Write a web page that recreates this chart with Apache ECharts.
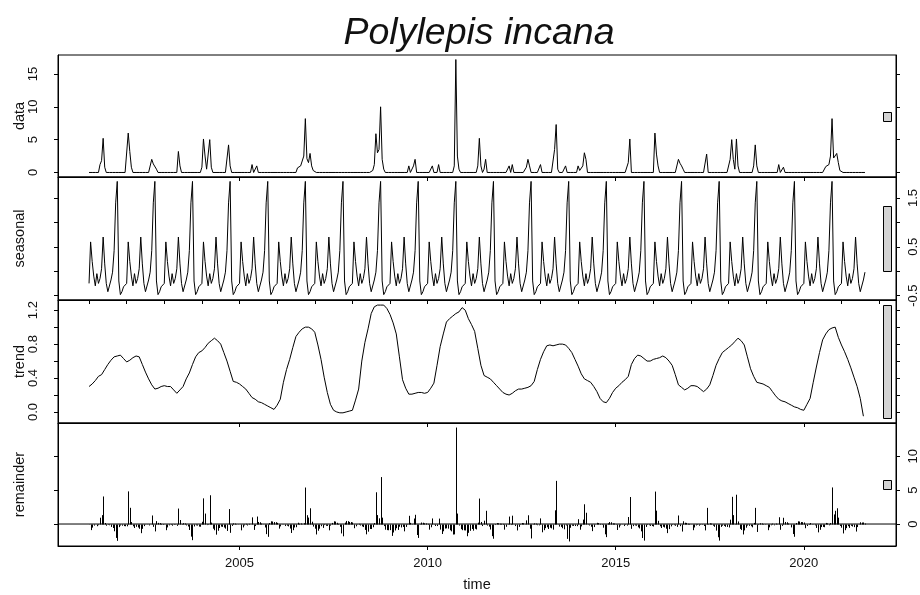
<!DOCTYPE html>
<html><head><meta charset="utf-8">
<script src="https://cdn.jsdelivr.net/npm/echarts@6/dist/echarts.min.js"></script>
<style>html,body{margin:0;padding:0;background:#fff}#c{width:920px;height:595px}</style>
</head><body><div id="c"></div>
<script>
// ---- time base (semi-monthly series starting Jan 2001) ----
const startYear = 2001;
const perYear = 24;      // observations per year
const trendPerYear = 12;

// ---- data panel (one row per year, 24 values) ----
const dataValues = [
0,0,0,0,0,0,0,1.2,1.8,5.2,0.8,0,0,0,0,0,0,0,0,0,0,0,0,0,
0,6.0,3.2,0.8,0,0,0,0,0,0,0,0,0,0,0,0.3,2.0,1.3,1.0,0.5,0,0,0,0,
0,0,0,0,0,0,0,0,0,3.2,1.0,0,0,0,0,0,0,0,0,0,0,0,0,0,
0.8,5.1,2.5,0.5,0.5,5.0,0.8,0,0,0,0,0,0,0,0,0,0,4.2,1.0,0,0,0,0,0,
0,0,0,0,0,0,0,0,1.2,0,0,1.0,0,0,0,0,0,0,0,0,0,0,0,0,
0,0,0,0,0,0,0,0,0,0,0,0,0,0.7,0.8,1.0,1.3,2.5,8.2,2.1,1.5,2.9,1.0,0.3,
0,0,0,0,0,0,0,0,0,0,0,0,0,0,0,0,0,0,0,0,0,0,0,0,
0,0,0,0,0,0,0,0,0,0,0,0,0,0.3,1.2,5.9,3.0,3.5,10.0,2.0,0.5,0,0,0,
0,0,0,0,0,0,0,0,0,0,0,0,1.0,0,0,1.0,2.0,0,0,0,0,0,0,0,
0,0,0,1.0,0,0,0,1.2,0,0,0,0,0,0,0,0,0,1.0,17.2,2.5,0.5,0,0,0,
0,0,0,0,0,0,0,0,1.0,5.2,1.0,0,0.5,2.0,0,0,0,0,0,0,0,0,0,0,
0,0,0,0,1.0,0,1.2,0,0,0,0,0,0,0,0,0.8,2.0,1.0,0,0,0,0,0,0,
1.2,0,0,0,0,0,0,0,0,3.5,7.3,0.5,0,0,0,0,1.0,0,0,0,0,0,0,0,
1.0,0.3,0.3,1.0,3.0,2.0,0,0,0,0,0,0,0,0,0,0,0,0,0,0,0,0,0,0,
0,0,0,0,0,0,0,0,1.5,5.1,0,0,0,0,0,0,0,0,0,0,0,0,0,0,
0,6.0,2.8,1.0,0,0,0,0,0,0,0,0,0,0,0,0,2.0,1.4,1.0,0.5,0,0,0,0,
0,0,0,0,0,0,0,0,0,0,2.8,0,0,0,0,0,0,0,0,0,0,0,0,0,
0,2.0,5.0,2.0,0.5,5.1,1.0,0,0,0,0,0,0,0,0,0,1.0,4.2,1.0,0,0,0,0,0,
0,0,0,0,0,0,0,0,1.2,0,0,0.8,0,0,0,0,0,0,0,0,0,0,0,0,
0,0,0,0,0,0,0,0,0,0,0,0,0,0,0.9,1.0,1.2,2.5,8.2,2.2,2.5,2.9,1.5,0.3,
0,0,0,0,0,0,0,0,0,0,0,0,0,0,0,0
];

// ---- seasonal panel ----
const seasonalValues = [
-0.25,0.6,0.2,-0.1,-0.3,-0.05,-0.25,-0.15,0.05,0.7,0.15,-0.25,-0.42,-0.38,-0.18,-0.02,0.42,1.4,1.84,-0.2,-0.48,-0.42,-0.32,-0.3,
-0.25,0.6,0.2,-0.1,-0.3,-0.05,-0.25,-0.15,0.05,0.7,0.15,-0.25,-0.42,-0.38,-0.18,-0.02,0.42,1.4,1.84,-0.2,-0.48,-0.42,-0.32,-0.3,
-0.25,0.6,0.2,-0.1,-0.3,-0.05,-0.25,-0.15,0.05,0.7,0.15,-0.25,-0.42,-0.38,-0.18,-0.02,0.42,1.4,1.84,-0.2,-0.48,-0.42,-0.32,-0.3,
-0.25,0.6,0.2,-0.1,-0.3,-0.05,-0.25,-0.15,0.05,0.7,0.15,-0.25,-0.42,-0.38,-0.18,-0.02,0.42,1.4,1.84,-0.2,-0.48,-0.42,-0.32,-0.3,
-0.25,0.6,0.2,-0.1,-0.3,-0.05,-0.25,-0.15,0.05,0.7,0.15,-0.25,-0.42,-0.38,-0.18,-0.02,0.42,1.4,1.84,-0.2,-0.48,-0.42,-0.32,-0.3,
-0.25,0.6,0.2,-0.1,-0.3,-0.05,-0.25,-0.15,0.05,0.7,0.15,-0.25,-0.42,-0.38,-0.18,-0.02,0.42,1.4,1.84,-0.2,-0.48,-0.42,-0.32,-0.3,
-0.25,0.6,0.2,-0.1,-0.3,-0.05,-0.25,-0.15,0.05,0.7,0.15,-0.25,-0.42,-0.38,-0.18,-0.02,0.42,1.4,1.84,-0.2,-0.48,-0.42,-0.32,-0.3,
-0.25,0.6,0.2,-0.1,-0.3,-0.05,-0.25,-0.15,0.05,0.7,0.15,-0.25,-0.42,-0.38,-0.18,-0.02,0.42,1.4,1.84,-0.2,-0.48,-0.42,-0.32,-0.3,
-0.25,0.6,0.2,-0.1,-0.3,-0.05,-0.25,-0.15,0.05,0.7,0.15,-0.25,-0.42,-0.38,-0.18,-0.02,0.42,1.4,1.84,-0.2,-0.48,-0.42,-0.32,-0.3,
-0.25,0.6,0.2,-0.1,-0.3,-0.05,-0.25,-0.15,0.05,0.7,0.15,-0.25,-0.42,-0.38,-0.18,-0.02,0.42,1.4,1.84,-0.2,-0.48,-0.42,-0.32,-0.3,
-0.25,0.6,0.2,-0.1,-0.3,-0.05,-0.25,-0.15,0.05,0.7,0.15,-0.25,-0.42,-0.38,-0.18,-0.02,0.42,1.4,1.84,-0.2,-0.48,-0.42,-0.32,-0.3,
-0.25,0.6,0.2,-0.1,-0.3,-0.05,-0.25,-0.15,0.05,0.7,0.15,-0.25,-0.42,-0.38,-0.18,-0.02,0.42,1.4,1.84,-0.2,-0.48,-0.42,-0.32,-0.3,
-0.25,0.6,0.2,-0.1,-0.3,-0.05,-0.25,-0.15,0.05,0.7,0.15,-0.25,-0.42,-0.38,-0.18,-0.02,0.42,1.4,1.84,-0.2,-0.48,-0.42,-0.32,-0.3,
-0.25,0.6,0.2,-0.1,-0.3,-0.05,-0.25,-0.15,0.05,0.7,0.15,-0.25,-0.42,-0.38,-0.18,-0.02,0.42,1.4,1.84,-0.2,-0.48,-0.42,-0.32,-0.3,
-0.25,0.6,0.2,-0.1,-0.3,-0.05,-0.25,-0.15,0.05,0.7,0.15,-0.25,-0.42,-0.38,-0.18,-0.02,0.42,1.4,1.84,-0.2,-0.48,-0.42,-0.32,-0.3,
-0.25,0.6,0.2,-0.1,-0.3,-0.05,-0.25,-0.15,0.05,0.7,0.15,-0.25,-0.42,-0.38,-0.18,-0.02,0.42,1.4,1.84,-0.2,-0.48,-0.42,-0.32,-0.3,
-0.25,0.6,0.2,-0.1,-0.3,-0.05,-0.25,-0.15,0.05,0.7,0.15,-0.25,-0.42,-0.38,-0.18,-0.02,0.42,1.4,1.84,-0.2,-0.48,-0.42,-0.32,-0.3,
-0.25,0.6,0.2,-0.1,-0.3,-0.05,-0.25,-0.15,0.05,0.7,0.15,-0.25,-0.42,-0.38,-0.18,-0.02,0.42,1.4,1.84,-0.2,-0.48,-0.42,-0.32,-0.3,
-0.25,0.6,0.2,-0.1,-0.3,-0.05,-0.25,-0.15,0.05,0.7,0.15,-0.25,-0.42,-0.38,-0.18,-0.02,0.42,1.4,1.84,-0.2,-0.48,-0.42,-0.32,-0.3,
-0.25,0.6,0.2,-0.1,-0.3,-0.05,-0.25,-0.15,0.05,0.7,0.15,-0.25,-0.42,-0.38,-0.18,-0.02,0.42,1.4,1.84,-0.2,-0.48,-0.42,-0.32,-0.3,
-0.25,0.6,0.2,-0.1,-0.3,-0.05,-0.25,-0.15,0.05,0.7,0.15,-0.25,-0.42,-0.38,-0.18,-0.02
];

// ---- trend panel (monthly) ----
const trendValues = [
0.30,0.33,0.37,0.42,0.44,0.50,0.56,0.61,0.65,0.66,0.67,0.63,
0.59,0.61,0.64,0.66,0.65,0.56,0.47,0.39,0.32,0.27,0.28,0.30,
0.31,0.30,0.30,0.26,0.22,0.26,0.30,0.39,0.46,0.56,0.65,0.70,
0.72,0.76,0.81,0.84,0.87,0.84,0.80,0.70,0.60,0.48,0.36,0.35,
0.33,0.30,0.27,0.22,0.17,0.15,0.12,0.11,0.09,0.07,0.05,0.03,
0.08,0.15,0.35,0.50,0.62,0.76,0.89,0.94,0.98,1.00,1.00,0.98,
0.94,0.79,0.62,0.41,0.23,0.09,0.02,0.00,-0.01,-0.01,0.00,0.01,
0.02,0.14,0.27,0.60,0.82,0.98,1.16,1.24,1.26,1.26,1.26,1.22,
1.15,1.05,0.92,0.65,0.38,0.28,0.21,0.21,0.22,0.23,0.23,0.22,
0.23,0.28,0.34,0.55,0.77,0.92,1.06,1.10,1.13,1.16,1.18,1.23,
1.20,1.10,1.03,0.95,0.75,0.55,0.43,0.41,0.39,0.35,0.31,0.27,
0.23,0.21,0.20,0.22,0.25,0.27,0.27,0.28,0.29,0.31,0.36,0.50,
0.62,0.71,0.78,0.79,0.78,0.79,0.80,0.80,0.79,0.75,0.70,0.62,
0.54,0.45,0.39,0.37,0.35,0.30,0.24,0.16,0.12,0.11,0.16,0.23,
0.28,0.31,0.35,0.38,0.42,0.56,0.63,0.67,0.66,0.63,0.60,0.60,
0.62,0.63,0.64,0.66,0.64,0.60,0.55,0.44,0.32,0.29,0.26,0.28,
0.31,0.31,0.30,0.27,0.24,0.27,0.32,0.43,0.55,0.63,0.70,0.73,
0.76,0.79,0.83,0.87,0.84,0.79,0.65,0.51,0.42,0.35,0.34,0.33,
0.31,0.29,0.24,0.19,0.15,0.13,0.12,0.10,0.08,0.06,0.05,0.03,
0.02,0.09,0.16,0.35,0.53,0.70,0.85,0.92,0.97,0.99,1.00,0.88,
0.79,0.71,0.62,0.52,0.41,0.30,0.16,-0.05
];

// ---- remainder panel ----
const remainderValues = [
-0.05,-0.90,-0.53,-0.23,-0.07,-0.32,-0.17,0.93,1.31,4.06,0.15,-0.25,-0.14,-0.18,-0.43,-0.59,-1.07,-2.05,-2.48,-0.46,-0.22,-0.25,-0.31,-0.33,
-0.34,4.81,2.39,0.29,-0.34,-0.59,-0.41,-0.51,-0.70,-1.35,-0.71,-0.31,-0.05,-0.09,-0.21,-0.07,1.26,-0.42,-1.09,0.43,0.17,0.14,0.02,0.00,
-0.06,-0.91,-0.50,-0.20,0.00,-0.25,-0.01,-0.11,-0.27,2.28,0.59,-0.01,0.12,0.08,-0.21,-0.37,-0.88,-1.86,-2.38,-0.36,-0.20,-0.23,-0.38,-0.40,
0.33,3.78,1.54,-0.16,-0.01,4.24,0.21,-0.69,-0.92,-1.57,-0.99,-0.59,-0.38,-0.42,-0.52,-0.68,-1.02,2.20,-1.30,-0.28,0.09,0.06,-0.03,-0.05,
-0.08,-0.93,-0.50,-0.20,0.03,-0.22,0.03,-0.07,0.98,-0.87,-0.30,1.10,0.30,0.26,0.07,-0.09,-0.51,-1.49,-1.89,0.13,0.40,0.37,0.29,0.27,
0.17,-0.68,-0.35,-0.05,-0.05,-0.30,-0.25,-0.35,-0.67,-1.32,-0.91,-0.51,-0.47,0.19,0.04,0.08,-0.10,0.12,5.38,1.30,0.95,2.32,0.34,-0.38,
-0.69,-1.54,-0.99,-0.69,-0.32,-0.57,-0.16,-0.26,-0.28,-0.93,-0.24,0.16,0.40,0.36,0.18,0.02,-0.41,-1.39,-1.81,0.21,0.45,0.42,0.31,0.29,
0.23,-0.62,-0.34,-0.04,0.03,-0.22,-0.35,-0.45,-0.87,-1.52,-1.13,-0.73,-0.74,-0.48,0.14,4.68,1.32,0.84,6.92,0.94,-0.31,-0.84,-0.90,-0.92,
-0.90,-1.75,-1.25,-0.95,-0.62,-0.87,-0.40,-0.50,-0.43,-1.08,-0.43,-0.03,1.21,0.17,-0.03,0.81,1.36,-1.62,-2.05,-0.03,0.22,0.19,0.10,0.08,
0.02,-0.83,-0.48,0.82,-0.04,-0.29,-0.30,0.80,-0.82,-1.47,-1.07,-0.67,-0.64,-0.68,-0.92,-1.08,-1.55,-1.53,14.22,1.54,-0.23,-0.76,-0.91,-0.93,
-0.95,-1.80,-1.30,-1.00,-0.73,-0.98,-0.70,-0.80,0.20,3.75,0.30,-0.30,0.49,1.95,-0.23,-0.39,-0.81,-1.79,-2.17,-0.15,0.14,0.11,0.05,0.03,
0.02,-0.83,-0.41,-0.11,1.10,-0.15,1.23,-0.07,-0.30,-0.95,-0.42,-0.02,0.15,0.11,-0.10,0.54,1.29,-0.69,-2.13,-0.11,0.09,0.06,-0.18,-0.20,
0.83,-1.22,-0.91,-0.61,-0.48,-0.73,-0.54,-0.64,-0.83,2.02,6.36,-0.04,-0.38,-0.42,-0.62,-0.78,-0.21,-2.19,-2.57,-0.55,-0.25,-0.28,-0.30,-0.32,
0.71,-0.84,-0.35,0.65,2.91,1.66,-0.12,-0.22,-0.40,-1.05,-0.45,-0.05,0.18,0.14,0.02,-0.14,-0.54,-1.52,-1.93,0.09,0.29,0.26,0.09,0.07,
-0.03,-0.88,-0.51,-0.21,-0.05,-0.30,-0.13,-0.23,1.03,3.98,-0.71,-0.31,-0.21,-0.25,-0.49,-0.65,-1.08,-2.06,-2.45,-0.43,-0.15,-0.18,-0.28,-0.30,
-0.37,4.78,1.97,0.47,-0.34,-0.59,-0.41,-0.51,-0.69,-1.34,-0.75,-0.35,-0.13,-0.17,-0.26,-0.42,1.26,-0.32,-1.11,0.41,0.19,0.16,0.04,0.02,
-0.06,-0.91,-0.51,-0.21,0.00,-0.25,-0.02,-0.12,-0.29,-0.94,2.38,-0.02,0.10,0.06,-0.25,-0.41,-0.97,-1.95,-2.45,-0.43,-0.25,-0.28,-0.41,-0.43,
-0.51,0.64,4.01,1.31,-0.03,4.32,0.38,-0.72,-0.89,-1.54,-0.94,-0.54,-0.23,-0.27,-0.33,-0.49,0.16,2.38,-1.17,-0.15,0.11,0.08,-0.01,-0.03,
-0.06,-0.91,-0.49,-0.19,0.06,-0.19,0.06,-0.04,1.00,-0.85,-0.28,0.92,0.30,0.26,0.08,-0.08,-0.50,-1.48,-1.88,0.14,0.40,0.37,0.29,0.27,
0.23,-0.62,-0.29,0.01,0.14,-0.11,-0.10,-0.20,-0.58,-1.23,-0.85,-0.45,-0.43,-0.47,0.16,0.10,-0.19,0.13,5.39,1.41,1.95,2.32,0.94,-0.28,
-0.54,-1.39,-0.91,-0.61,-0.32,-0.57,-0.27,-0.37,-0.46,-1.11,-0.45,-0.05,0.26,0.22,0.23,0.07
];

// ---- ticks / labels ----
const panelNames = ['data', 'seasonal', 'trend', 'remainder'];
const xLabelYears = [2005, 2010, 2015, 2020];
const seasonalYearTicks = [2001,2002,2003,2004,2005,2006,2007,2008,2009,2010,2011,2012,2013,2014,2015,2016,2017,2018,2019,2020,2021,2022];
const dataTicks = [0, 5, 10, 15];
const seasonalTicks = [-0.5, 0, 0.5, 1, 1.5];
const seasonalLabels = [-0.5, 0.5, 1.5];
const trendTicks = [0, 0.2, 0.4, 0.6, 0.8, 1.0, 1.2];
const trendLabels = [0, 0.4, 0.8, 1.2];
const remainderTicks = [0, 5, 10];
const rangeBarHeight = 1.33;   // common length of the grey range bars (data units)

// ---- layout / styling ----
const FONT = 'Liberation Sans, Arial, sans-serif';
const X_MIN = 2000.175, X_MAX = 2022.45;
const BAR_X0 = 2022.11, BAR_X1 = 2022.33;
const panels = [
  {top: 55,  height: 122, min: -0.69, max: 17.89, ticks: dataTicks,      labels: dataTicks,      side: 'left',  fmt: v => String(v)},
  {top: 177, height: 123, min: -0.59, max: 1.93,  ticks: seasonalTicks,  labels: seasonalLabels, side: 'right', fmt: v => v.toFixed(1)},
  {top: 300, height: 123, min: -0.13, max: 1.32,  ticks: trendTicks,     labels: trendLabels,    side: 'left',  fmt: v => v.toFixed(1)},
  {top: 423, height: 123, min: -3.24, max: 14.89, ticks: remainderTicks, labels: remainderTicks, side: 'right', fmt: v => String(v)}
];

const pairs = (arr, per) => arr.map((v, i) => [startYear + i / per, v]);

const grid = panels.map(p => ({left: 58, width: 838, top: p.top, height: p.height,
  show: true, borderColor: '#000', borderWidth: 1, backgroundColor: 'transparent',
  containLabel: false, outerBoundsMode: 'none'}));

const xAxis = panels.map((p, g) => ({
  type: 'value', gridIndex: g, min: X_MIN, max: X_MAX, position: 'bottom',
  axisLine: {show: true, onZero: false, lineStyle: {color: '#000', width: 1}},
  axisTick: {show: true, inside: false, length: 4, lineStyle: {color: '#000', width: 1},
             customValues: g === 1 ? seasonalYearTicks : xLabelYears},
  axisLabel: {show: g === 3, customValues: xLabelYears, color: '#111', fontSize: 13, fontFamily: FONT, margin: 11,
              formatter: v => String(v)},
  splitLine: {show: false},
  name: g === 3 ? 'time' : '', nameLocation: 'middle', nameGap: 31, nameMoveOverlap: false,
  nameTextStyle: {color: '#111', fontSize: 14.5, fontFamily: FONT}
}));

const yAxis = [];
panels.forEach((p, g) => {
  const base = {type: 'value', gridIndex: g, min: p.min, max: p.max, splitLine: {show: false},
    axisLine: {show: true, onZero: false, lineStyle: {color: '#000', width: 1}},
    axisTick: {show: true, inside: false, length: 4, customValues: p.ticks, lineStyle: {color: '#000', width: 1}}};
  yAxis.push(Object.assign({}, base, {position: 'left',
    name: panelNames[g], nameLocation: 'middle', nameGap: 31, nameMoveOverlap: false,
    nameTextStyle: {color: '#111', fontSize: 14.5, fontFamily: FONT},
    axisLabel: {show: p.side === 'left', customValues: p.labels, rotate: 90, margin: 18,
                color: '#111', fontSize: 13, fontFamily: FONT, formatter: p.fmt}}));
  yAxis.push(Object.assign({}, base, {position: 'right',
    axisLabel: {show: p.side === 'right', customValues: p.labels, rotate: 90, margin: 11,
                color: '#111', fontSize: 13, fontFamily: FONT, formatter: p.fmt}}));
});

const lineStyle = {color: '#000', width: 1};
const series = [
  {type: 'line', xAxisIndex: 0, yAxisIndex: 0, data: pairs(dataValues, perYear), symbol: 'none', lineStyle, silent: true},
  {type: 'line', xAxisIndex: 1, yAxisIndex: 2, data: pairs(seasonalValues, perYear), symbol: 'none', lineStyle, silent: true},
  {type: 'line', xAxisIndex: 2, yAxisIndex: 4, data: pairs(trendValues, trendPerYear), symbol: 'none', lineStyle, silent: true},
  {type: 'custom', xAxisIndex: 3, yAxisIndex: 6, data: pairs(remainderValues, perYear), silent: true,
   renderItem: (params, api) => {
     const a = api.coord([api.value(0), 0]);
     const b = api.coord([api.value(0), api.value(1)]);
     const x = Math.round(a[0]) + 0.5;
     return {type: 'line', shape: {x1: x, y1: Math.round(a[1]) + 0.5, x2: x, y2: b[1]},
             style: {stroke: '#000', lineWidth: 1}};
   }},
  {type: 'line', xAxisIndex: 3, yAxisIndex: 6, data: [[X_MIN, 0], [X_MAX, 0]], symbol: 'none', lineStyle, silent: true}
];

// grey range bars, one per panel, same data length, centred vertically
panels.forEach((p, g) => {
  const mid = (p.min + p.max) / 2;
  series.push({type: 'custom', xAxisIndex: g, yAxisIndex: 2 * g, silent: true,
    data: [[BAR_X0, BAR_X1, mid - rangeBarHeight / 2, mid + rangeBarHeight / 2]],
    renderItem: (params, api) => {
      const tl = api.coord([api.value(0), api.value(3)]);
      const br = api.coord([api.value(1), api.value(2)]);
      return {type: 'rect', shape: {x: Math.round(tl[0]) + 0.5, y: Math.round(tl[1]) + 0.5,
              width: Math.round(br[0] - tl[0]), height: Math.round(br[1] - tl[1])},
              style: {fill: '#d3d3d3', stroke: '#000', lineWidth: 1}};
    }});
});

const chart = echarts.init(document.getElementById('c'), null, {renderer: 'canvas'});
chart.setOption({
  animation: false,
  backgroundColor: '#fff',
  title: {text: 'Polylepis incana', left: 474, top: 10, textAlign: 'center',
          textStyle: {fontStyle: 'italic', fontWeight: 'normal', fontSize: 37.5, color: '#111', fontFamily: FONT}},
  grid, xAxis, yAxis, series
});
</script>
</body></html>
